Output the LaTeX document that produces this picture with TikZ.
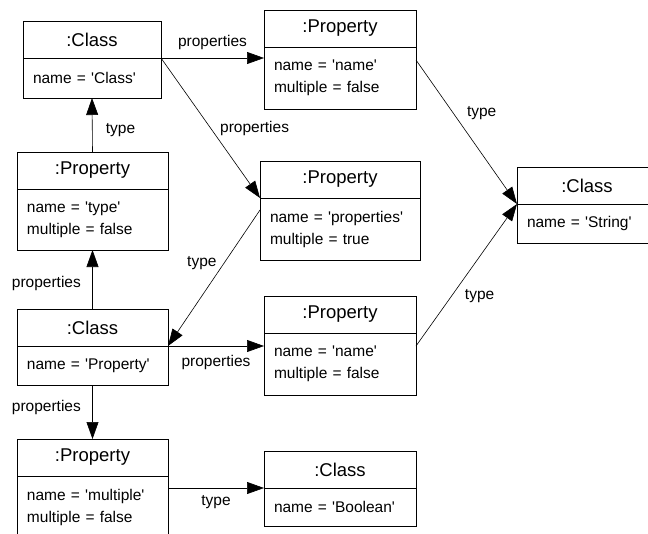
\documentclass[tikz,border=0pt]{standalone}
\usepackage{fontspec}
\setmainfont{Liberation Sans}[Ligatures=TeXOff]
\usetikzlibrary{positioning,arrows.meta}

\begin{document}
\begin{tikzpicture}[x=1pt,y=-1pt,
  objhead/.style={draw, line width=0.9pt, minimum width=#1, minimum height=37pt,
    inner sep=0pt, outer sep=0pt, font=\fontsize{18.5}{22}\selectfont},
  objbody/.style 2 args={draw, line width=0.9pt, text width=#1, minimum height=#2,
    inner xsep=10pt, inner ysep=0pt, outer sep=0pt, align=left,
    font=\fontsize{15.5}{22}\selectfont},
  link/.style={-{Triangle[length=17pt,width=12pt]}, line width=0.6pt},
  lab/.style={font=\fontsize{15.5}{18}\selectfont}]

\path[use as bounding box, clip] (0,0) rectangle (648,533); %% page

%% objects
\node[objhead=138pt] (clsh) at (92,39.5) {:Class};
\node[objbody={118pt}{40pt}, below=0pt of clsh] (clsb) {name = 'Class'};

\node[objhead=151pt] (ptypeh) at (92.5,170.5) {:Property};
\node[objbody={131pt}{61pt}, below=0pt of ptypeh] (ptypeb)
  {name = 'type'\\multiple = false};

\node[objhead=152pt] (pnameah) at (340,28.5) {:Property};
\node[objbody={132pt}{62pt}, below=0pt of pnameah] (pnameab)
  {name = 'name'\\multiple = false};

\node[objhead=160pt] (ppropsh) at (340,179.5) {:Property};
\node[objbody={140pt}{62pt}, below=0pt of ppropsh] (ppropsb)
  {name = 'properties'\\multiple = true};

\node[objhead=140pt] (strh) at (587,185.5) {:Class};
\node[objbody={120pt}{39pt}, below=0pt of strh] (strb) {name = 'String'};

\node[objhead=151pt] (cproph) at (92.5,327.5) {:Class};
\node[objbody={131pt}{39pt}, below=0pt of cproph] (cpropb) {name = 'Property'};

\node[objhead=152pt] (pnamebh) at (340,314.5) {:Property};
\node[objbody={132pt}{62pt}, below=0pt of pnamebh] (pnamebb)
  {name = 'name'\\multiple = false};

\node[objhead=151pt] (pmulth) at (92.5,457.5) {:Property};
\node[objbody={131pt}{62pt}, below=0pt of pmulth] (pmultb)
  {name = 'multiple'\\multiple = false};

\node[objhead=152pt] (boolh) at (340,469.5) {:Class};
\node[objbody={132pt}{38pt}, below=0pt of boolh] (boolb) {name = 'Boolean'};

%% links
\draw[link] (clsh.south east) -- (clsh.south east -| pnameab.west)
  node[lab, midway, above=5pt] (la) {properties};
\draw[link] (clsh.south east) -- (ppropsh.south west)
  node[lab, midway, right=6pt] (lb) {properties};
\draw[link] (ptypeh.north) -- (clsb.south)
  node[lab, pos=0.4, right=10pt] (lc) {type};
\draw[link] ([yshift=-13pt]pnameab.north east) -- (strh.south west)
  node[lab, pos=0.37, right=10pt] (ld) {type};
\draw[link] (cproph.south east -| pnamebb.east) -- (strh.south west)
  node[lab, pos=0.35, right=10pt] (le) {type};
\draw[link] ([yshift=-12pt]ppropsb.north west) -- (cproph.south east)
  node[lab, pos=0.39, left=4pt] (lf) {type};
\draw[link] (cproph.north) -- (ptypeb.south)
  node[lab, pos=0.43, left=8pt] (lg) {properties};
\draw[link] (cproph.south east) -- (cproph.south east -| pnamebb.west)
  node[lab, midway, below=6pt] (lh) {properties};
\draw[link] (cpropb.south) -- (pmulth.north)
  node[lab, pos=0.42, left=8pt] (li) {properties};
\draw[link] (boolh.south west -| pmultb.east) -- (boolh.south west)
  node[lab, midway, below=4pt] (lj) {type};

\end{tikzpicture}
\end{document}
